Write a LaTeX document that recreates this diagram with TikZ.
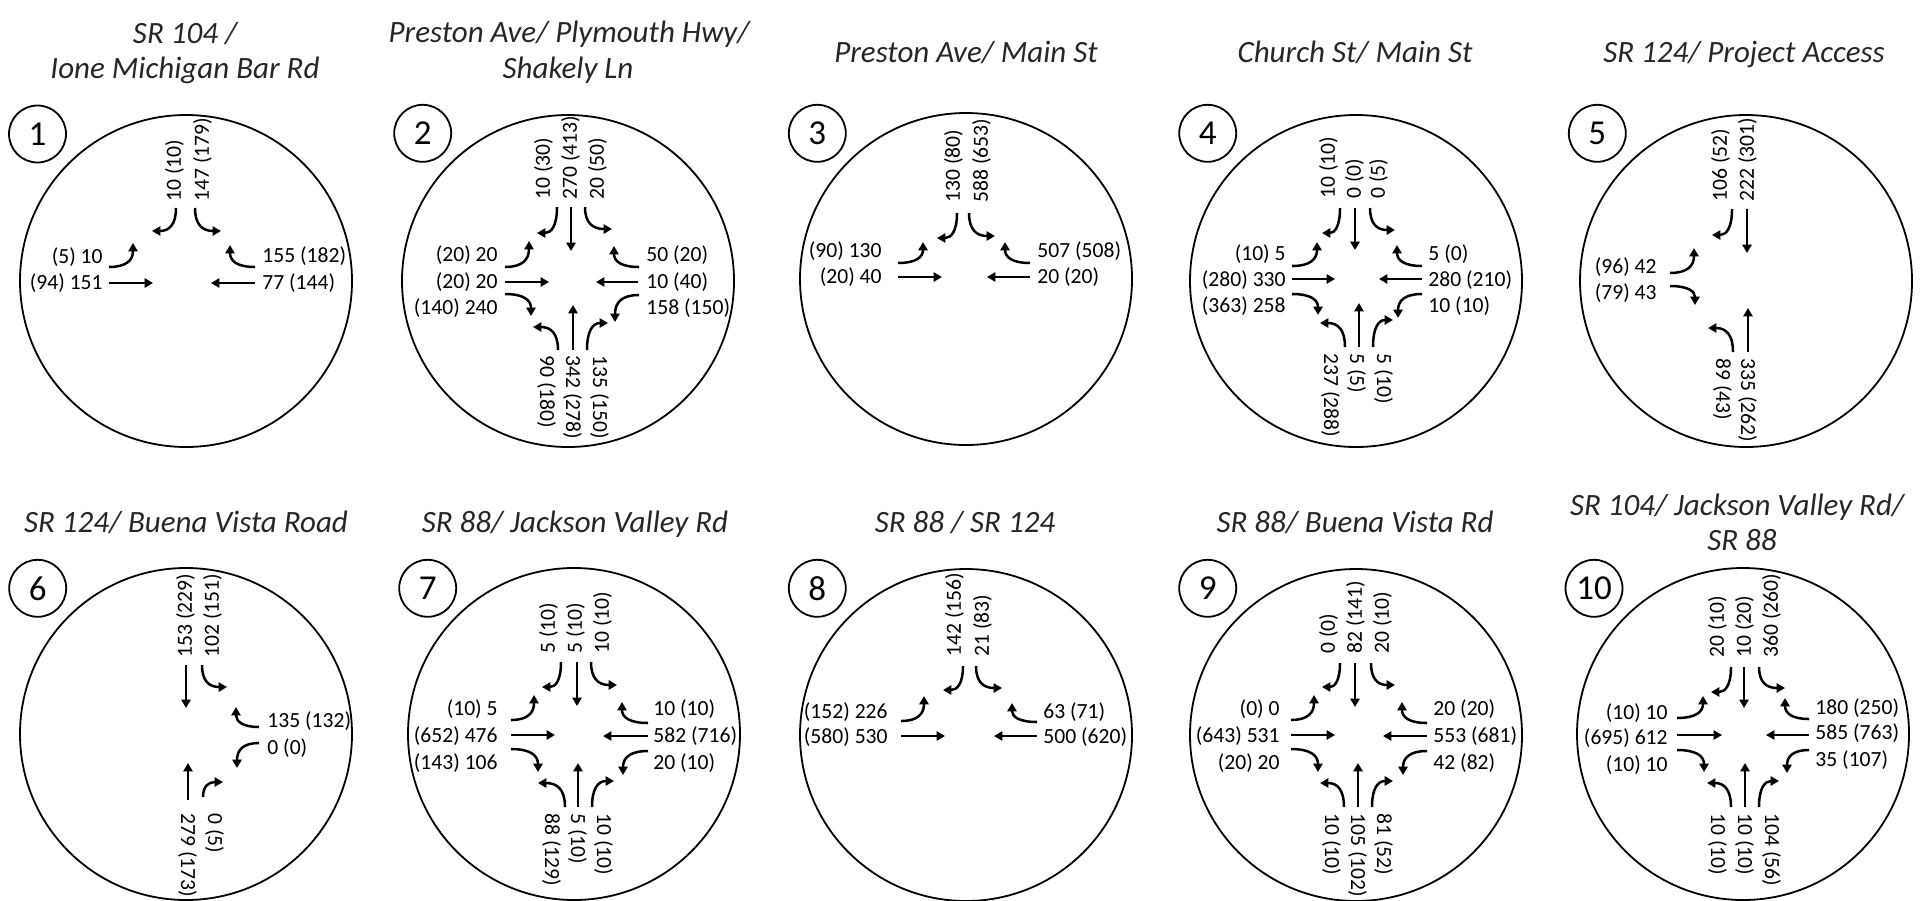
\documentclass[tikz,border=0pt]{standalone}
\usepackage{fontspec}
\setmainfont{Carlito}
\usetikzlibrary{arrows.meta,calc}
\newcounter{lbl}
\tikzset{
  mv/.style={line width=1.25pt, -{Triangle[length=4.2pt,width=4.6pt]}},
  ring/.style={line width=0.9pt},
  vol/.style={inner sep=0pt, text height=6.8pt, text depth=0pt, font=\fontsize{10.8}{12}\selectfont},
  ttl/.style={inner sep=0pt, text height=10pt, text depth=0pt, font=\fontsize{15.5}{18}\selectfont\itshape, text=black!85},
  idx/.style={circle, draw, line width=0.9pt, minimum size=28.5pt, inner sep=0pt, font=\fontsize{17.5}{17.5}\selectfont},
}
\newcommand\hturn[4]{\draw[mv] (#1,#2) .. controls ($(#1,#2)!0.72!(#3,#2)$) and ($(#3,#4)!0.72!(#3,#2)$) .. (#3,#4);}
\newcommand\vturn[4]{\draw[mv] (#1,#2) .. controls ($(#1,#2)!0.72!(#1,#4)$) and ($(#3,#4)!0.72!(#1,#4)$) .. (#3,#4);}
\newcommand\thru[4]{\draw[mv] (#1,#2) -- (#3,#4);}
\newcommand\labL[3]{\stepcounter{lbl}\node[vol,anchor=east] (v\arabic{lbl}) at (#1,#2) {#3};}
\newcommand\labR[3]{\stepcounter{lbl}\node[vol,anchor=west] (v\arabic{lbl}) at (#1,#2) {#3};}
\newcommand\labT[3]{\stepcounter{lbl}\node[vol,rotate=90,anchor=west] (v\arabic{lbl}) at (#1,#2) {#3};}
\newcommand\labB[3]{\stepcounter{lbl}\node[vol,rotate=-90,anchor=west] (v\arabic{lbl}) at (#1,#2) {#3};}
\begin{document}
\begin{tikzpicture}[x=0.5pt,y=-0.5pt]
\useasboundingbox (0,0) rectangle (1925,900);
% ---------- 1 ----------
\draw[ring] (186,281) circle[radius=83pt];
\node[idx] (n1) at (37.5,134) {1};
\node[ttl] (h1a) at (185,33) {SR 104 /};
\node[ttl] (h1b) at (185,68) {Ione Michigan Bar Rd};
\hturn{109}{267}{133}{243}
\thru{109}{283}{153}{283}
\thru{255}{283}{211}{283}
\hturn{255}{267}{230}{245}
\vturn{176}{208}{152}{231}
\vturn{195}{208}{221}{231}
\labL{103}{257}{(5) 10}
\labL{103}{283}{(94) 151}
\labR{262}{256}{155 (182)}
\labR{262}{283}{77 (144)}
\labT{174}{202}{10 (10)}
\labT{202}{202}{147 (179)}
% ---------- 2 ----------
\draw[ring] (568,281) circle[radius=83pt];
\node[idx] (n2) at (422.7,133.3) {2};
\node[ttl] (h2a) at (569,32) {Preston Ave/ Plymouth Hwy/};
\node[ttl] (h2b) at (568,68) {Shakely Ln};
\hturn{505}{267}{529}{241}
\thru{505}{282}{549}{282}
\hturn{505}{294}{531}{316}
\hturn{639}{267}{614}{246}
\thru{638}{282}{596}{282}
\hturn{639}{295}{615}{322}
\vturn{557}{207}{537}{233}
\thru{571}{207}{571}{251}
\vturn{585}{207}{612}{229}
\vturn{558}{350}{533}{327}
\thru{573}{350}{573}{305}
\vturn{587}{350}{608}{323}
\labL{498}{255}{(20) 20}
\labL{498}{282}{(20) 20}
\labL{498}{308}{(140) 240}
\labR{646}{255}{50 (20)}
\labR{646}{282}{10 (40)}
\labR{646}{308}{158 (150)}
\labT{543}{200}{10 (30)}
\labT{570}{200}{270 (413)}
\labT{597}{200}{20 (50)}
\labB{547}{355}{90 (180)}
\labB{573}{355}{342 (278)}
\labB{600}{355}{135 (150)}
% ---------- 3 ----------
\draw[ring] (966,279) circle[radius=83pt];
\node[idx] (n3) at (817.3,133.3) {3};
\node[ttl] (h3) at (966,52) {Preston Ave/ Main St};
\hturn{898}{263}{923}{242}
\thru{898}{277}{942}{277}
\hturn{1030}{263}{1005}{242}
\thru{1030}{277}{987}{277}
\vturn{957}{213}{937}{238}
\vturn{969}{213}{995}{236}
\labL{882}{251}{(90) 130}
\labL{882}{277}{(20) 40}
\labR{1037}{251}{507 (508)}
\labR{1037}{277}{20 (20)}
\labT{953}{203}{130 (80)}
\labT{981}{203}{588 (653)}
% ---------- 4 ----------
\draw[ring] (1356,281) circle[radius=83pt];
\node[idx] (n4) at (1207.7,133.3) {4};
\node[ttl] (h4) at (1355,52) {Church St/ Main St};
\hturn{1292}{266}{1317}{242}
\thru{1292}{279}{1335}{279}
\hturn{1292}{294}{1318}{315}
\hturn{1422}{266}{1397}{245}
\thru{1422}{279}{1379}{279}
\hturn{1422}{294}{1398}{318}
\vturn{1340}{208}{1322}{233}
\thru{1355}{208}{1355}{250}
\vturn{1370}{208}{1395}{230}
\vturn{1345}{347}{1320}{323}
\thru{1359}{347}{1359}{303}
\vturn{1373}{347}{1393}{320}
\labL{1286}{254}{(10) 5}
\labL{1286}{280}{(280) 330}
\labL{1286}{306}{(363) 258}
\labR{1428}{254}{5 (0)}
\labR{1428}{280}{280 (210)}
\labR{1428}{306}{10 (10)}
\labT{1328}{199}{10 (10)}
\labT{1354}{199}{0 (0)}
\labT{1378}{199}{0 (5)}
\labB{1331}{353}{237 (288)}
\labB{1357}{353}{5 (5)}
\labB{1384}{353}{5 (10)}
% ---------- 5 ----------
\draw[ring] (1746,281) circle[radius=83pt];
\node[idx] (n5) at (1597.3,133.3) {5};
\node[ttl] (h5) at (1744,52) {SR 124/ Project Access};
\vturn{1732}{209}{1712}{235}
\thru{1747}{209}{1747}{253}
\hturn{1670}{273}{1694}{248}
\hturn{1670}{286}{1695}{305}
\vturn{1733}{352}{1708}{328}
\thru{1748}{352}{1748}{308}
\labL{1657}{267}{(96) 42}
\labL{1657}{293}{(79) 43}
\labT{1720}{202}{106 (52)}
\labT{1747}{202}{222 (301)}
\labB{1723}{358}{89 (43)}
\labB{1748}{358}{335 (262)}
% ---------- 6 ----------
\draw[ring] (186,734) circle[radius=83pt];
\node[idx] (n6) at (37.7,588.3) {6};
\node[ttl] (h6) at (186,522) {SR 124/ Buena Vista Road};
\thru{186}{665}{186}{708}
\vturn{202}{665}{227}{687}
\hturn{259}{727}{236}{707}
\hturn{259}{743}{237}{768}
\thru{188}{800}{188}{763}
\vturn{203}{797}{223}{782}
\labR{267}{721}{135 (132)}
\labR{267}{748}{0 (0)}
\labT{185}{658}{153 (229)}
\labT{212}{658}{102 (151)}
\labB{188}{813}{279 (173)}
\labB{215}{813}{0 (5)}
% ---------- 7 ----------
\draw[ring] (574,734) circle[radius=83pt];
\node[idx] (n7) at (427.7,588.3) {7};
\node[ttl] (h7) at (575,522) {SR 88/ Jackson Valley Rd};
\hturn{511}{720}{534}{695}
\thru{511}{735}{555}{735}
\hturn{511}{749}{538}{772}
\hturn{648}{723}{622}{702}
\thru{648}{736}{603}{736}
\hturn{648}{751}{623}{775}
\vturn{561}{662}{542}{687}
\thru{577}{662}{577}{706}
\vturn{591}{662}{617}{685}
\vturn{565}{807}{538}{783}
\thru{578}{807}{578}{763}
\vturn{592}{807}{614}{781}
\labL{498}{709}{(10) 5}
\labL{498}{736}{(652) 476}
\labL{498}{763}{(143) 106}
\labR{653}{709}{10 (10)}
\labR{653}{736}{582 (716)}
\labR{653}{763}{20 (10)}
\labT{548}{654}{5 (10)}
\labT{575}{654}{5 (10)}
\labT{602}{654}{10 (10)}
\labB{552}{813}{88 (129)}
\labB{578}{813}{5 (10)}
\labB{604}{813}{10 (10)}
% ---------- 8 ----------
\draw[ring] (966,735) circle[radius=83pt];
\node[idx] (n8) at (817.3,588.3) {8};
\node[ttl] (h8) at (965,522) {SR 88 / SR 124};
\vturn{963}{666}{943}{690}
\vturn{976}{666}{1002}{688}
\hturn{901}{721}{924}{696}
\thru{901}{736}{945}{736}
\hturn{1037}{722}{1012}{703}
\thru{1037}{736}{994}{736}
\labL{888}{712}{(152) 226}
\labL{888}{737}{(580) 530}
\labR{1043}{712}{63 (71)}
\labR{1043}{737}{500 (620)}
\labT{954}{657}{142 (156)}
\labT{982}{657}{21 (83)}
% ---------- 9 ----------
\draw[ring] (1356,735) circle[radius=83pt];
\node[idx] (n9) at (1207.7,588.3) {9};
\node[ttl] (h9) at (1355,522) {SR 88/ Buena Vista Rd};
\hturn{1291}{720}{1314}{695}
\thru{1291}{735}{1335}{735}
\hturn{1291}{749}{1318}{772}
\hturn{1427}{723}{1402}{702}
\thru{1427}{736}{1383}{736}
\hturn{1427}{751}{1403}{775}
\vturn{1340}{663}{1322}{687}
\thru{1355}{663}{1355}{707}
\vturn{1371}{663}{1395}{685}
\vturn{1344}{807}{1320}{783}
\thru{1358}{807}{1358}{763}
\vturn{1372}{807}{1393}{781}
\labL{1280}{709}{(0) 0}
\labL{1280}{736}{(643) 531}
\labL{1280}{763}{(20) 20}
\labR{1433}{709}{20 (20)}
\labR{1433}{736}{553 (681)}
\labR{1433}{763}{42 (82)}
\labT{1328}{654}{0 (0)}
\labT{1355}{654}{82 (141)}
\labT{1382}{654}{20 (10)}
\labB{1332}{813}{10 (10)}
\labB{1358}{813}{105 (102)}
\labB{1384}{813}{81 (52)}
% ---------- 10 ----------
\draw[ring] (1743,734) circle[radius=83pt];
\node[idx] (n10) at (1594,588.3) {10};
\node[ttl] (h10a) at (1737,505) {SR 104/ Jackson Valley Rd/};
\node[ttl] (h10b) at (1742,540) {SR 88};
\hturn{1677}{718}{1703}{696}
\thru{1677}{735}{1722}{735}
\hturn{1677}{750}{1704}{772}
\hturn{1809}{719}{1785}{698}
\thru{1809}{735}{1766}{735}
\hturn{1809}{750}{1787}{773}
\vturn{1731}{667}{1711}{692}
\thru{1744}{667}{1744}{708}
\vturn{1759}{667}{1785}{688}
\vturn{1731}{807}{1707}{783}
\thru{1745}{807}{1745}{763}
\vturn{1759}{807}{1779}{781}
\labL{1668}{713}{(10) 10}
\labL{1668}{738}{(695) 612}
\labL{1668}{765}{(10) 10}
\labR{1815}{708}{180 (250)}
\labR{1815}{733}{585 (763)}
\labR{1815}{760}{35 (107)}
\labT{1717}{658}{20 (10)}
\labT{1744}{658}{10 (20)}
\labT{1771}{658}{360 (260)}
\labB{1718}{813}{10 (10)}
\labB{1745}{813}{10 (10)}
\labB{1772}{813}{104 (56)}
\end{tikzpicture}
\end{document}
